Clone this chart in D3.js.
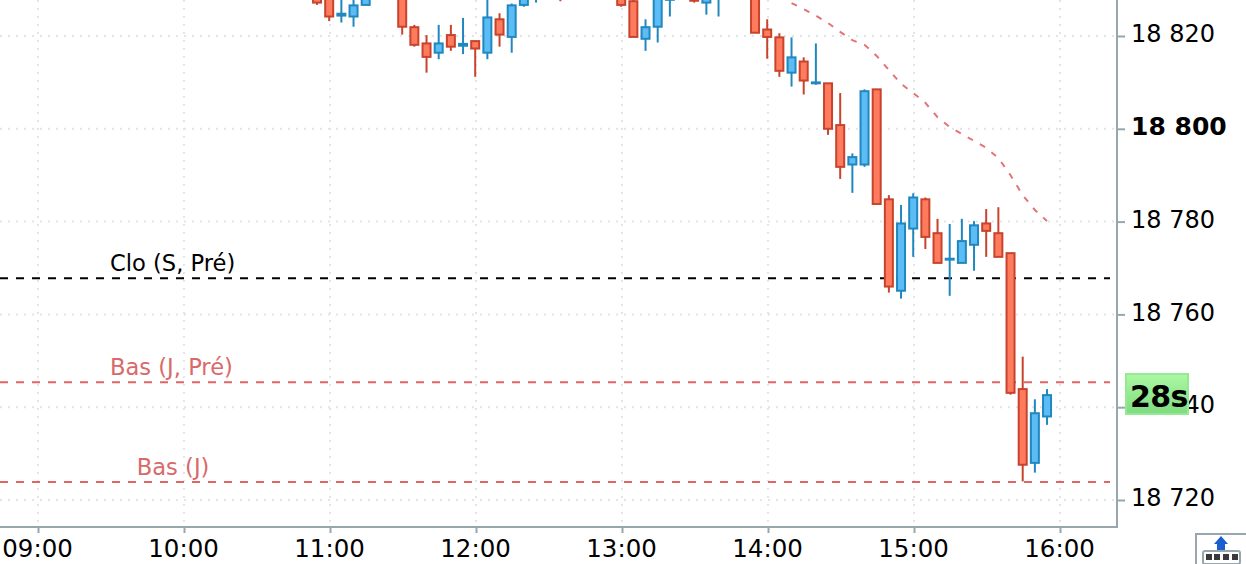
<!DOCTYPE html>
<html><head><meta charset="utf-8">
<script src="https://cdn.jsdelivr.net/npm/d3@7/dist/d3.min.js"></script>
<style>html,body{margin:0;padding:0;background:#fff;overflow:hidden}svg{display:block}text{font-family:"DejaVu Sans",sans-serif}</style>
</head><body><svg id="c" width="1246" height="564"></svg>
<script>
const candleTimes=["10:55","11:00","11:05","11:10","11:15","11:30","11:35","11:40","11:45","11:50","11:55","12:00","12:05","12:10","12:15","12:20","12:25","12:35","13:00","13:05","13:10","13:15","13:20","13:30","13:35","13:40","13:55","14:00","14:05","14:10","14:15","14:20","14:25","14:30","14:35","14:40","14:45","14:50","14:55","15:00","15:05","15:10","15:15","15:20","15:25","15:30","15:35","15:40","15:45","15:50","15:55"];
const opens=[18828.2,18828.4,18824.4,18824.2,18826.7,18828.6,18821.9,18818.4,18816.4,18820.2,18817.9,18818.9,18816.4,18823.6,18819.8,18826.7,18828,18829,18828.4,18827.5,18819.4,18822,18827.8,18828.4,18827.2,18828,18829,18821.4,18819.7,18812.1,18814.5,18809.8,18809.8,18800.8,18792.3,18792.3,18808.5,18784.8,18765.1,18778.5,18784.8,18777.5,18771.8,18771.1,18775,18779.6,18777.5,18773.2,18743.9,18728,18738];
const highs=[18828.6,18829,18828.5,18828.2,18829,18829,18822.4,18820.2,18822.4,18822.4,18823.9,18818.9,18828.4,18824.9,18827,18829,18829,18829,18829,18827.8,18823.6,18829,18829,18829,18829,18829,18829,18823.6,18820.6,18819.7,18815.4,18818.4,18809.8,18807.7,18794.7,18808.5,18808.5,18785.7,18783.6,18786.1,18785.2,18780.6,18779.5,18780.6,18780.1,18782.7,18783.1,18773.2,18750.9,18741.7,18743.9];
const lows=[18826.7,18823.2,18822.9,18822,18826.7,18820.3,18817.7,18812.1,18815,18816.8,18816.1,18811.2,18815,18817.7,18816.4,18826.3,18827.2,18827.5,18826.3,18819.8,18816.8,18818.6,18824.2,18827.2,18824.6,18824.2,18820.7,18815.1,18811.2,18809.1,18807.4,18809.5,18798.7,18789.2,18786.2,18791.8,18783.8,18764.7,18763.4,18772.4,18774.1,18771.1,18764,18771.1,18769.4,18772.4,18772.4,18742.7,18724,18725.9,18736.2];
const closes=[18827.2,18824.2,18824.8,18826.6,18828.4,18822,18818.1,18815.5,18818.4,18817.7,18818.3,18817.3,18824,18820.3,18826.6,18828.4,18828.4,18828.4,18826.7,18819.8,18821.9,18828.4,18828.4,18827.6,18828.4,18828.6,18820.7,18819.8,18812.5,18815.4,18810.4,18810,18800,18791.8,18793.9,18808.1,18783.8,18766,18779.6,18785.2,18776.7,18771.1,18772,18775.8,18779.2,18778,18772.4,18743.1,18727.6,18738.7,18742.6];
const avgTimes=["14:10","14:15","14:20","14:25","14:30","14:35","14:40","14:45","14:50","14:55","15:00","15:05","15:10","15:15","15:20","15:25","15:30","15:35","15:40","15:45","15:50","15:55"];
const avgValues=[18827.1,18825.8,18824.4,18822.8,18820.9,18819.1,18818.1,18815.7,18812.7,18809.7,18807.7,18805.6,18802.5,18800.4,18798.9,18797.4,18795.9,18793.7,18790,18785.7,18782.5,18780.1];
const levelNames=["Clo (S, Pré)","Bas (J, Pré)","Bas (J)"];
const levelValues=[18767.8,18745.4,18723.9];
const levelColors=["#000000","#e06666","#e06666"];
const levelTextColors=["#000000","#d96a6a","#d96a6a"];
const levelLabelTimes=["09:30","09:30","09:41"];
const priceTicks=[18720,18740,18760,18780,18800,18820];
const priceLabels=["18 720","18 740","18 760","18 780","18 800","18 820"];
const boldPrice=18800;
const timeTicks=["09:00","10:00","11:00","12:00","13:00","14:00","15:00","16:00"];
const countdownLabel="28s";

const W=1246,H=564,right=1117,bottom=527;
const t=s=>{const[a,b]=s.split(":").map(Number);return new Date(Date.UTC(2024,0,2,a,b));};
const x=d3.scaleUtc().domain([t("09:00"),t("16:00")]).range([38,1060]);
const y=d3.scaleLinear().domain([18720,18820]).range([500,36]);
const markShift=-0.8;
const svg=d3.select("#c");
const defs=svg.append("defs");
const g=defs.append("linearGradient").attr("id","gr").attr("x1",0).attr("x2",0).attr("y1",0).attr("y2",1);
g.append("stop").attr("offset",0).attr("stop-color","#acf8a2");
g.append("stop").attr("offset",1).attr("stop-color","#7edb80");

const grid=svg.append("g").attr("stroke","#e3e3ee").attr("stroke-width",2).attr("stroke-dasharray","2 6");
grid.selectAll("line.h").data(priceTicks).join("line").attr("class","h")
 .attr("x1",0).attr("x2",right-2).attr("y1",d=>y(d)).attr("y2",d=>y(d));
grid.selectAll("line.v").data(timeTicks).join("line").attr("class","v")
 .attr("x1",d=>x(t(d))).attr("x2",d=>x(t(d))).attr("y1",0).attr("y2",bottom-2);

const xAxis=d3.axisBottom(x).tickValues(timeTicks.map(t)).tickSize(6).tickPadding(7).tickFormat(d3.utcFormat("%H:%M"));
const yAxis=d3.axisRight(y).tickValues(priceTicks).tickSize(8).tickPadding(6).tickFormat(d=>priceLabels[priceTicks.indexOf(d)]);
const ax=svg.append("g").attr("transform",`translate(0,${bottom})`).call(xAxis);
const ay=svg.append("g").attr("transform",`translate(${right},0)`).call(yAxis);
[ax,ay].forEach(a=>{
 a.select(".domain").remove();
 a.selectAll(".tick line").attr("stroke","#98a6ae").attr("stroke-width",2);
 a.selectAll("text").attr("fill","#000").style("font-size","24px").style("font-family",'"DejaVu Sans",sans-serif');
});
ax.selectAll("text").style("font-size","24.5px").attr("dx",-1);
ay.selectAll(".tick text").attr("dy","0.32em").attr("y",-2).style("font-weight",d=>d===boldPrice?"bold":"normal").style("font-size",d=>d===boldPrice?"25px":"24px");
svg.append("line").attr("x1",0).attr("x2",right+1).attr("y1",bottom).attr("y2",bottom).attr("stroke","#98a6ae").attr("stroke-width",2);
svg.append("line").attr("x1",right).attr("x2",right).attr("y1",0).attr("y2",bottom).attr("stroke","#98a6ae").attr("stroke-width",2);

const lv=svg.append("g");
levelValues.forEach((v,i)=>{
 lv.append("line").attr("x1",0).attr("x2",1110).attr("y1",y(v)).attr("y2",y(v))
  .attr("stroke",levelColors[i]).attr("stroke-width",2).attr("stroke-dasharray","8 8");
 lv.append("text").attr("x",x(t(levelLabelTimes[i]))-1).attr("y",y(v)-7).attr("fill",levelTextColors[i])
  .style("font-size","22.6px").text(levelNames[i]);
});

const line=d3.line().x((d,i)=>x(t(avgTimes[i]))+markShift).y(d=>y(d)).curve(d3.curveLinear);
svg.append("path").attr("d",line(avgValues)).attr("fill","none").attr("stroke","#e57373").attr("stroke-width",2).attr("stroke-dasharray","6 8");

const C=svg.append("g");
candleTimes.forEach((s,i)=>{
 const up=closes[i]>=opens[i];
 const st=up?"#2088be":"#c8432b",fl=up?"#5cbcf6":"#ff7b5e";
 const cx=x(t(s))+markShift;
 C.append("line").attr("x1",cx).attr("x2",cx).attr("y1",y(highs[i])).attr("y2",y(lows[i])).attr("stroke",st).attr("stroke-width",2);
 const top=y(Math.max(opens[i],closes[i])),bot=y(Math.min(opens[i],closes[i]));
 C.append("rect").attr("x",cx-4).attr("width",8).attr("y",top).attr("height",Math.max(bot-top,0.5)).attr("fill",fl).attr("stroke",st).attr("stroke-width",2);
});

svg.append("rect").attr("x",1126).attr("y",374).attr("width",62).attr("height",40).attr("fill","url(#gr)").attr("stroke","#93ea93").attr("stroke-width",2);
svg.append("text").attr("x",1130).attr("y",407).attr("font-weight","bold").attr("letter-spacing","-0.6").style("font-size","30px").attr("fill","#000").text(countdownLabel);

const ic=svg.append("g");
ic.append("path").attr("d","M1196 564V534H1246").attr("fill","none").attr("stroke","#98a6ae").attr("stroke-width",2);
ic.append("rect").attr("x",1203).attr("y",551).attr("width",37).attr("height",13).attr("rx",2).attr("fill","#fff").attr("stroke","#98a6ae").attr("stroke-width",2);
ic.append("path").attr("d","M1221 536L1228 544H1225V550H1217V544H1214Z").attr("fill","#1a5fd0");
[1206,1214,1223,1232].forEach(v=>ic.append("rect").attr("x",v).attr("y",554).attr("width",6).attr("height",6).attr("fill","#3a3a3a"));
</script></body></html>
